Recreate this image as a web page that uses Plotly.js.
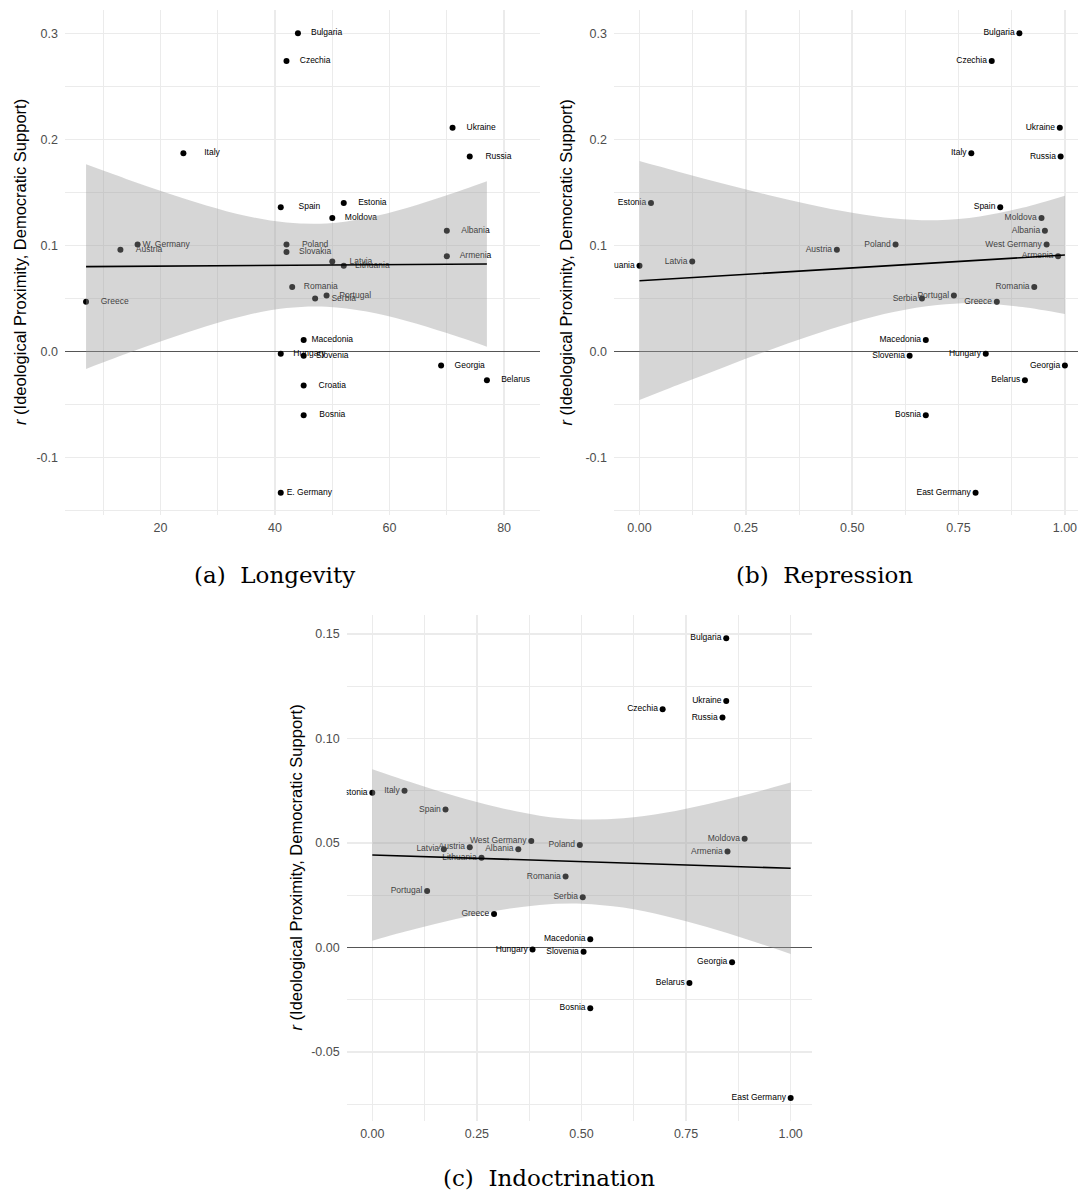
<!DOCTYPE html>
<html>
<head>
<meta charset="utf-8">
<script src="https://cdn.plot.ly/plotly-3.0.1.min.js"></script>
<style>
  html, body { margin: 0; padding: 0; background: #ffffff; }
  #chart { width: 1078px; height: 1193px; }
</style>
</head>
<body>
<div id="chart"></div>
<script>
// ---- data -------------------------------------------------------------
const labelsA = ["Bulgaria","Czechia","Italy","Ukraine","Russia","Spain","Estonia","Moldova",
  "Albania","W. Germany","Austria","Poland","Slovakia","Armenia","Latvia","Lithuania",
  "Romania","Greece","Portugal","Serbia","Macedonia","Hungary","Slovenia","Georgia",
  "Belarus","Croatia","Bosnia","E. Germany"];
const labelsBC = ["Bulgaria","Czechia","Italy","Ukraine","Russia","Spain","Estonia","Moldova",
  "Albania","West Germany","Austria","Poland","Slovakia","Armenia","Latvia","Lithuania",
  "Romania","Greece","Portugal","Serbia","Macedonia","Hungary","Slovenia","Georgia",
  "Belarus","Croatia","Bosnia","East Germany"];

// years of communist rule
const longevity = [44,42,24,71,74,41,52,50,70,16,13,42,42,70,50,52,43,7,49,47,45,41,45,69,77,45,45,41];
// repression index (not available for Slovakia, Croatia)
const repression = [0.893,0.828,0.780,0.988,0.990,0.848,0.027,0.945,0.953,0.957,0.464,0.602,null,
  0.984,0.124,0.000,0.928,0.840,0.739,0.664,0.673,0.814,0.635,1.000,0.906,null,0.673,0.790];
// r (ideological proximity, democratic support), panels a and b
const rSupport = [0.300,0.274,0.187,0.211,0.184,0.136,0.140,0.126,0.114,0.101,0.096,0.101,0.094,
  0.090,0.085,0.081,0.061,0.047,0.053,0.050,0.011,-0.002,-0.004,-0.013,-0.027,-0.032,-0.060,-0.133];
// indoctrination index (not available for Slovakia, Croatia)
const indoctrination = [0.846,0.694,0.077,0.846,0.837,0.175,0.000,0.890,0.349,0.380,0.233,0.496,null,
  0.849,0.171,0.261,0.462,0.291,0.131,0.503,0.521,0.383,0.505,0.860,0.758,null,0.521,1.000];
// r (ideological proximity, democratic support), panel c
const rIndoc = [0.148,0.114,0.075,0.118,0.110,0.066,0.074,0.052,0.047,0.051,0.048,0.049,null,
  0.046,0.047,0.043,0.034,0.016,0.027,0.024,0.004,-0.001,-0.002,-0.007,-0.017,null,-0.029,-0.072];

// linear fits with 95% confidence bands
const bandXA = [7,14,21,28,35,42,49,56,63,70,77];
const bandUpperA = [0.1765,0.1628,0.1497,0.1378,0.1279,0.1217,0.1208,0.1260,0.1353,0.1473,0.1605];
const bandLowerA = [-0.0163,-0.0021,0.0115,0.0240,0.0343,0.0411,0.0424,0.0378,0.0289,0.0175,0.0047];
const fitXA = [7,77];
const fitYA = [0.0801,0.0826];

const bandXB = [0,0.1,0.2,0.3,0.4,0.5,0.6,0.7,0.8,0.9,1.0];
const bandUpperB = [0.1796,0.1686,0.1580,0.1479,0.1386,0.1308,0.1254,0.1238,0.1274,0.1356,0.1470];
const bandLowerB = [-0.0456,-0.0298,-0.0144,0.0007,0.0148,0.0274,0.0376,0.0440,0.0454,0.0420,0.0354];
const fitXB = [0,1];
const fitYB = [0.0668,0.0910];

const bandXC = [0,0.1,0.2,0.3,0.4,0.5,0.6,0.7,0.8,0.9,1.0];
const bandUpperC = [0.0853,0.0786,0.0724,0.0671,0.0631,0.0613,0.0619,0.0645,0.0686,0.0735,0.0789];
const bandLowerC = [0.0033,0.0087,0.0136,0.0177,0.0204,0.0210,0.0191,0.0151,0.0098,0.0036,-0.0031];
const fitXC = [0,1];
const fitYC = [0.0443,0.0379];

// tick labels
const yTicksAB = [-0.1,0,0.1,0.2,0.3];
const yTickTextAB = ["-0.1","0.0","0.1","0.2","0.3"];
const yTicksC = [-0.05,0,0.05,0.10,0.15];
const yTickTextC = ["-0.05","0.00","0.05","0.10","0.15"];

// ---- drawing ----------------------------------------------------------
const W = 1078, H = 1193;
const SANS = "Liberation Sans, Arial, Helvetica, sans-serif";
const GRID = "#EBEBEB";
const BAND = "rgba(153,153,153,0.4)";
const labelNudgeA = 5;

function domX(l, r) { return [l / W, r / W]; }
function domY(t, b) { return [1 - b / H, 1 - t / H]; }

function panelTraces(xs, ys, labels, bx, bu, bl, fx, fy, ax, nudge) {
  const xa = 'x' + ax, ya = 'y' + ax;
  const traces = [];
  const textFont = { family: SANS, size: 8.5, color: '#000000' };
  if (nudge !== null) {
    traces.push({ x: xs, y: ys, type: 'scatter', mode: 'markers', xaxis: xa, yaxis: ya,
      marker: { color: '#000000', size: 6 }, hoverinfo: 'skip' });
    traces.push({ x: xs.map(v => v === null ? null : v + nudge), y: ys, type: 'scatter', mode: 'text',
      text: labels, textposition: 'middle center', textfont: textFont,
      xaxis: xa, yaxis: ya, hoverinfo: 'skip' });
  } else {
    traces.push({ x: xs, y: ys, type: 'scatter', mode: 'markers+text', xaxis: xa, yaxis: ya,
      text: labels, textposition: 'middle left', textfont: textFont,
      marker: { color: '#000000', size: 6 }, hoverinfo: 'skip' });
  }
  traces.push({ x: bx, y: bl, type: 'scatter', mode: 'lines', xaxis: xa, yaxis: ya,
    line: { width: 0, shape: 'spline' }, hoverinfo: 'skip' });
  traces.push({ x: bx, y: bu, type: 'scatter', mode: 'lines', xaxis: xa, yaxis: ya,
    fill: 'tonexty', fillcolor: BAND, line: { width: 0, shape: 'spline' }, hoverinfo: 'skip' });
  traces.push({ x: fx, y: fy, type: 'scatter', mode: 'lines', xaxis: xa, yaxis: ya,
    line: { color: '#000000', width: 1.6 }, hoverinfo: 'skip' });
  return traces;
}

const data = []
  .concat(panelTraces(longevity, rSupport, labelsA, bandXA, bandUpperA, bandLowerA, fitXA, fitYA, '', labelNudgeA))
  .concat(panelTraces(repression, rSupport, labelsBC, bandXB, bandUpperB, bandLowerB, fitXB, fitYB, '2', null))
  .concat(panelTraces(indoctrination, rIndoc, labelsBC, bandXC, bandUpperC, bandLowerC, fitXC, fitYC, '3', null));

const tickFont = { family: SANS, size: 12.5, color: '#4D4D4D' };
function xAxis(domain, range, dtick, minorDtick, fmt, anchor) {
  return { domain: domain, range: range, tick0: 0, dtick: dtick, tickformat: fmt,
    showgrid: true, gridcolor: GRID, gridwidth: 1.5, zeroline: false, showline: false,
    ticks: '', tickfont: tickFont, ticklabelstandoff: 3, anchor: anchor, fixedrange: true,
    minor: { tick0: 0, dtick: minorDtick, showgrid: true, gridcolor: GRID, gridwidth: 1 } };
}
function yAxis(domain, range, vals, text, minorDtick, anchor) {
  return { domain: domain, range: range, tickmode: 'array', tickvals: vals, ticktext: text,
    showgrid: true, gridcolor: GRID, gridwidth: 1.5, zeroline: true,
    zerolinecolor: '#555555', zerolinewidth: 1, showline: false,
    ticks: '', tickfont: tickFont, ticklabelstandoff: 6, anchor: anchor, fixedrange: true,
    minor: { tick0: 0, dtick: minorDtick, showgrid: true, gridcolor: GRID, gridwidth: 1 } };
}

const yTitle = '<i>r</i> (Ideological Proximity, Democratic Support)';
function titleAnn(xpx, ypx) {
  return { text: yTitle, xref: 'paper', yref: 'paper', x: xpx / W, y: 1 - ypx / H,
    xanchor: 'center', yanchor: 'middle', textangle: -90, showarrow: false,
    font: { family: SANS, size: 16.5, color: '#000000' } };
}
function captionAnn(text, xpx, ypx) {
  return { text: text, xref: 'paper', yref: 'paper', x: xpx / W, y: 1 - ypx / H,
    xanchor: 'center', yanchor: 'middle', showarrow: false,
    font: { family: 'DejaVu Serif, Liberation Serif, serif', size: 23, color: '#000000' } };
}

const layout = {
  width: W, height: H,
  margin: { l: 0, r: 0, t: 0, b: 0 },
  paper_bgcolor: '#ffffff', plot_bgcolor: '#ffffff',
  showlegend: false,
  xaxis: xAxis(domX(65, 540), [3.325, 86.27], 20, 10, null, 'y'),
  yaxis: yAxis(domY(10, 515), [-0.154, 0.322], yTicksAB, yTickTextAB, 0.05, 'x'),
  xaxis2: xAxis(domX(614, 1078), [-0.0599, 1.0308], 0.25, 0.125, '.2f', 'y2'),
  yaxis2: yAxis(domY(10, 515), [-0.154, 0.322], yTicksAB, yTickTextAB, 0.05, 'x2'),
  xaxis3: xAxis(domX(346.7, 812), [-0.0612, 1.051], 0.25, 0.125, '.2f', 'y3'),
  yaxis3: yAxis(domY(615, 1121), [-0.083, 0.1591], yTicksC, yTickTextC, 0.025, 'x3'),
  annotations: [
    titleAnn(20.5, 262.5),
    titleAnn(566, 262.5),
    titleAnn(295.5, 868),
    captionAnn('(a)\u00A0\u00A0Longevity', 274, 575),
    captionAnn('(b)\u00A0\u00A0Repression', 824, 575),
    captionAnn('(c)\u00A0\u00A0Indoctrination', 549, 1178)
  ]
};

Plotly.newPlot('chart', data, layout, { staticPlot: true, displayModeBar: false });
</script>
</body>
</html>
